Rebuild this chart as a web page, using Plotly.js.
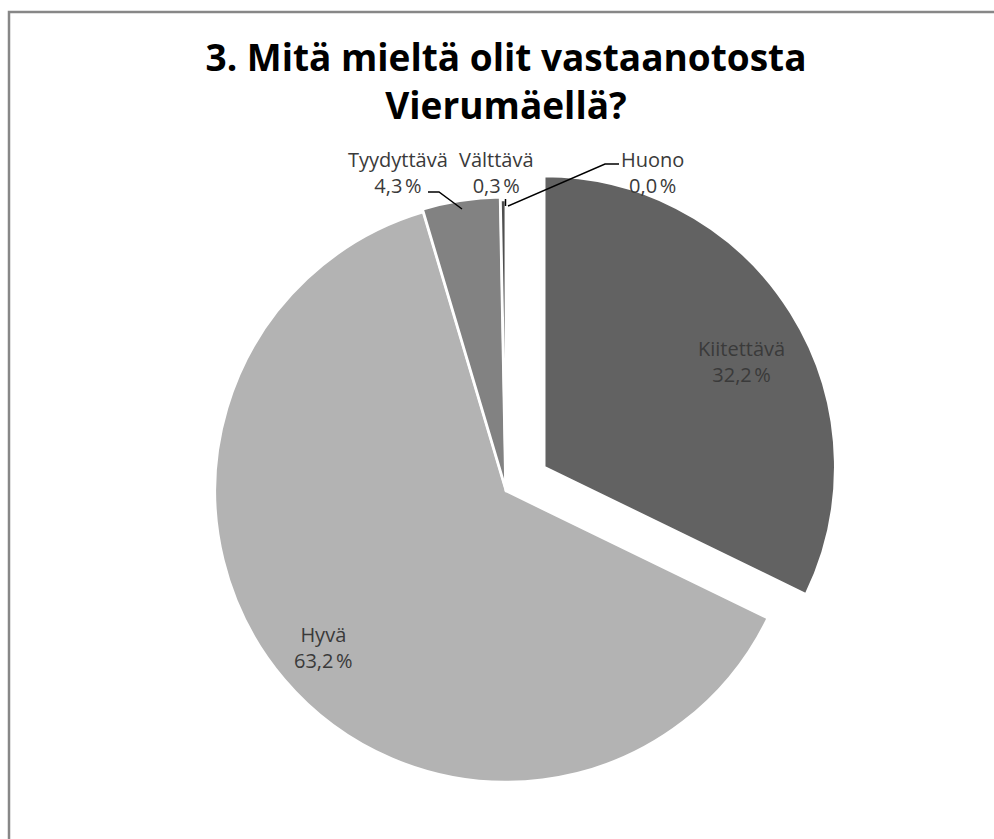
<!DOCTYPE html>
<html>
<head>
<meta charset="utf-8">
<script src="https://cdn.plot.ly/plotly-3.0.1.min.js"></script>
<style>
  html, body { margin: 0; padding: 0; background: #ffffff; }
  #chart { width: 994px; height: 839px; }
</style>
</head>
<body>
<div id="chart"></div>
<script>
// Survey answers: "3. Mitä mieltä olit vastaanotosta Vierumäellä?"
const categories = ['Kiitettävä', 'Hyvä', 'Tyydyttävä', 'Välttävä', 'Huono'];
const shares = [32.2, 63.2, 4.3, 0.3, 0.0];
const sliceColors = ['#626262', '#b3b3b3', '#828282', '#4f4f4f', '#333333'];
const slicePull = [0.155, 0, 0.01, 0, 0];

const W = 994, H = 839;
const px = x => x / W;          // page x (px) -> paper x
const py = y => 1 - y / H;      // page y (px) -> paper y

function pctText(v) {
  return v.toFixed(1).replace('.', ',') + '\u202F%';
}

const labelFont = { family: '"Open Sans", "Noto Sans", sans-serif', size: 20, color: '#3a3a3a' };

// label anchor points (page px) for each category
const labelPos = [
  [741, 361],
  [323, 647],
  [398, 172],
  [496, 172],
  [652, 172]
];

const annotations = categories.map((c, i) => ({
  xref: 'paper', yref: 'paper',
  x: px(labelPos[i][0]), y: py(labelPos[i][1]),
  xanchor: 'center', yanchor: 'middle',
  text: c + '<br>' + pctText(shares[i]),
  showarrow: false,
  font: labelFont,
  align: 'center'
}));

// leader lines for the small outer slices
const leader = (pts) => ({
  type: 'path', xref: 'paper', yref: 'paper',
  path: pts.map((p, k) => (k ? 'L' : 'M') + px(p[0]) + ',' + py(p[1])).join(' '),
  line: { color: '#000000', width: 1.5 }
});

const shapes = [
  // outer chart frame
  {
    type: 'rect', xref: 'paper', yref: 'paper',
    x0: px(9), x1: px(1100), y0: py(960), y1: py(12),
    line: { color: '#878787', width: 2.5 }, fillcolor: 'rgba(0,0,0,0)'
  },
  leader([[428, 192], [439, 192], [462, 209]]),
  leader([[505.5, 199], [505.5, 206]]),
  leader([[619, 164], [605, 164], [508, 206]])
];

const R = 291, CX = 506, CY = 491, HALF = R * 1.155;

const trace = {
  type: 'pie',
  labels: categories,
  values: shares,
  sort: false,
  direction: 'clockwise',
  rotation: 0,
  pull: slicePull,
  marker: { colors: sliceColors, line: { color: '#ffffff', width: 2.5 } },
  textinfo: 'none',
  hoverinfo: 'label+percent',
  showlegend: false,
  domain: { x: [px(CX - HALF), px(CX + HALF)], y: [py(CY + HALF), py(CY - HALF)] }
};

const layout = {
  width: W, height: H,
  margin: { l: 0, r: 0, t: 0, b: 0 },
  paper_bgcolor: '#ffffff',
  plot_bgcolor: '#ffffff',
  showlegend: false,
  title: {
    text: '<b>3. Mitä mieltä olit vastaanotosta<br>Vierumäellä?</b>',
    font: { family: '"Open Sans", "Noto Sans", sans-serif', size: 37, color: '#000000' },
    x: px(506), xanchor: 'center',
    y: py(71), yanchor: 'middle', yref: 'container'
  },
  annotations: annotations,
  shapes: shapes
};

Plotly.newPlot('chart', [trace], layout, { displayModeBar: false, staticPlot: true });
</script>
</body>
</html>
